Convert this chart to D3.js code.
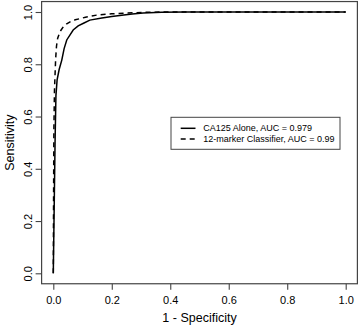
<!DOCTYPE html>
<html><head><meta charset="utf-8">
<script src="https://cdn.jsdelivr.net/npm/d3@7"></script>
<style>body{margin:0;background:#fff}svg{display:block}text{font-family:"Liberation Sans",Arial,sans-serif;fill:#000}</style>
</head><body><svg id="c" width="359" height="326"></svg>
<script>
const xTicks = [0, 0.2, 0.4, 0.6, 0.8, 1.0];
const yTicks = [0, 0.2, 0.4, 0.6, 0.8, 1.0];
const seriesNames = ["CA125 Alone, AUC = 0.979", "12-marker Classifier, AUC = 0.99"];
const fprSolid = [0,0.003,0.006,0.009,0.013,0.02,0.029,0.037,0.046,0.068,0.085,0.105,0.125,0.166,0.2,0.234,0.27,0.307,0.37,0.45,1.0];
const sensSolid = [0,0.25,0.5,0.68,0.74,0.78,0.816,0.86,0.893,0.931,0.947,0.958,0.969,0.977,0.983,0.988,0.992,0.996,0.999,1.0,1.0];
const fprDashed = [0,0.001,0.002,0.004,0.006,0.008,0.011,0.015,0.023,0.035,0.046,0.06,0.075,0.11,0.148,0.2,0.25,0.32,0.4,1.0];
const sensDashed = [0,0.3,0.55,0.7,0.76,0.82,0.87,0.9,0.925,0.945,0.955,0.964,0.97,0.98,0.988,0.993,0.996,0.999,1.0,1.0];

const svg = d3.select("#c");
const x = d3.scaleLinear().domain([0,1]).range([53.3,345.7]);
const y = d3.scaleLinear().domain([0,1]).range([273.3,12]);
const x0 = x(-0.04), x1 = x(1.04), y0 = y(-0.04), y1 = y(1.04);

svg.append("rect").attr("x",x0).attr("y",y1).attr("width",x1-x0).attr("height",y0-y1)
  .attr("fill","none").attr("stroke","#444").attr("stroke-width",1.2);

const gx = svg.append("g").attr("transform",`translate(0,${y0})`)
  .call(d3.axisBottom(x).tickValues(xTicks).tickFormat(d3.format(".1f")).tickSize(6).tickPadding(4));
const gy = svg.append("g").attr("transform",`translate(${x0},0)`)
  .call(d3.axisLeft(y).tickValues(yTicks).tickFormat(d3.format(".1f")).tickSize(6).tickPadding(4));
[gx,gy].forEach(g=>{g.select(".domain").remove();g.selectAll("line").attr("stroke","#444").attr("stroke-width",1.1);
  g.selectAll("text").style("font-size","11px").attr("font-family",null);});
gx.selectAll("text").attr("dy","0.75em").attr("y",12);
gy.selectAll("text").attr("transform","translate(-13,0) rotate(-90)").attr("x",0).attr("y",0)
  .attr("dy","0.35em").attr("text-anchor","middle");

svg.append("text").attr("x",(x0+x1)/2).attr("y",322).attr("text-anchor","middle").style("font-size","12.5px").text("1 - Specificity");
svg.append("text").attr("transform",`translate(14,${(y0+y1)/2}) rotate(-90)`).attr("text-anchor","middle").style("font-size","12.5px").text("Sensitivity");

const line = d3.line().x(d=>x(d[0])).y(d=>y(d[1]));
svg.append("path").datum(d3.zip(fprSolid,sensSolid)).attr("d",line).attr("fill","none").attr("stroke","#000").attr("stroke-width",1.5);
svg.append("path").datum(d3.zip(fprDashed,sensDashed)).attr("d",line).attr("fill","none").attr("stroke","#000").attr("stroke-width",1.5).attr("stroke-dasharray","5,4");

const lg = svg.append("g");
lg.append("rect").attr("x",171).attr("y",117.3).attr("width",169).attr("height",32).attr("fill","#fff").attr("stroke","#444").attr("stroke-width",1);
seriesNames.forEach((n,i)=>{
  const yy = 128.3 + i*10.7;
  lg.append("line").attr("x1",180.7).attr("x2",195.5).attr("y1",yy).attr("y2",yy).attr("stroke","#000").attr("stroke-width",1.5)
    .attr("stroke-dasharray", i===1 ? "5,4" : null);
  lg.append("text").attr("x",203.3).attr("y",yy).attr("dy","0.35em").style("font-size","9px").text(n);
});
</script></body></html>
